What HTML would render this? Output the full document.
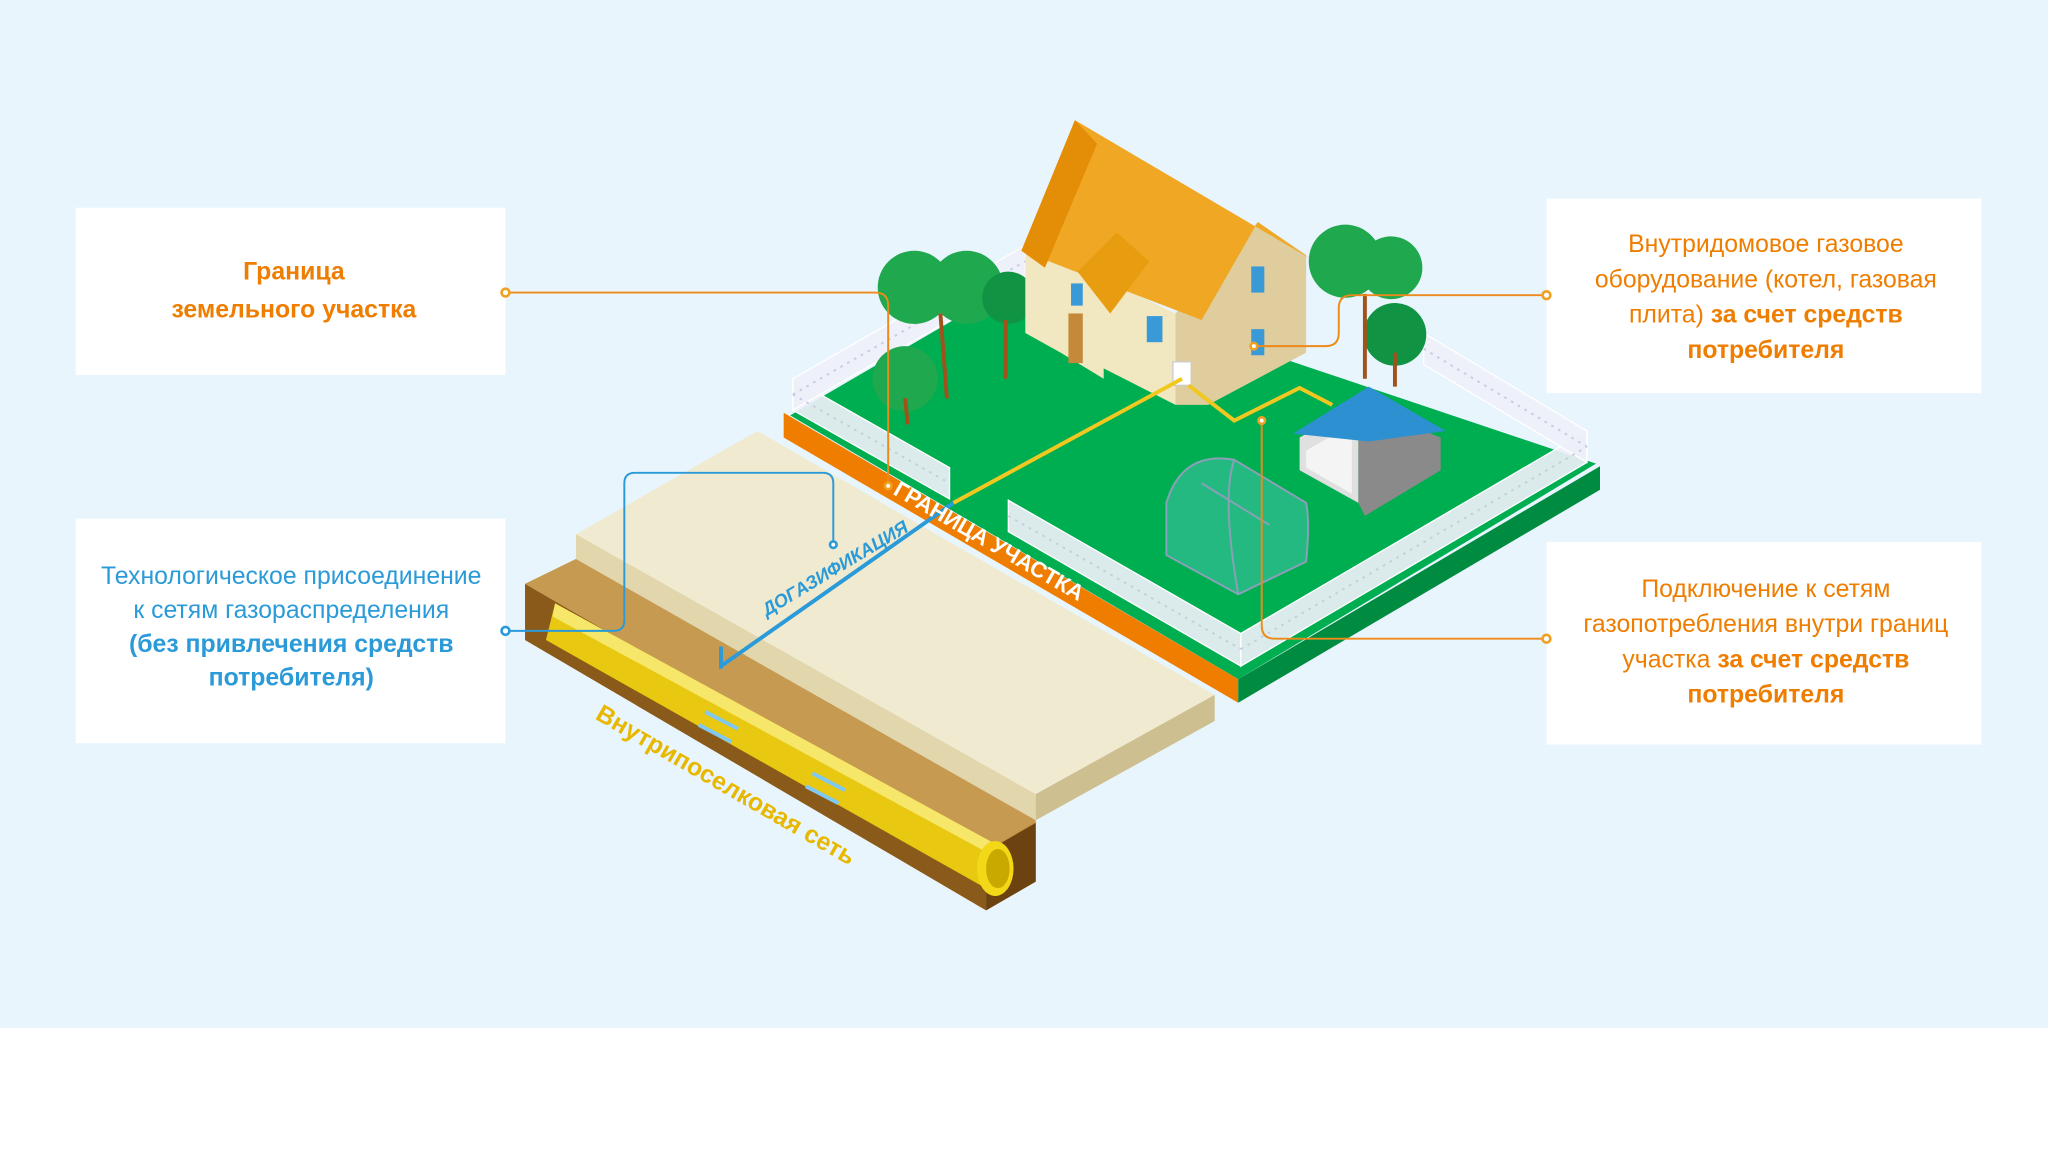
<!DOCTYPE html>
<html><head><meta charset="utf-8"><style>
html,body{margin:0;padding:0;width:2048px;height:1152px;overflow:hidden;background:#fff}
svg{display:block}
text{font-family:"Liberation Sans",sans-serif}
</style></head><body>
<svg width="2048" height="1152" viewBox="0 0 1568 882" preserveAspectRatio="none" xmlns="http://www.w3.org/2000/svg">
<rect x="0" y="0" width="1568" height="787" fill="#e8f5fd"/>
<rect x="58" y="159" width="329" height="128" fill="#fff"/>
<rect x="58" y="397" width="329" height="172" fill="#fff"/>
<rect x="1184" y="152" width="333" height="149" fill="#fff"/>
<rect x="1184" y="415" width="333" height="155" fill="#fff"/>
<g font-size="19" text-anchor="middle" fill="#ee7d00">
<text x="225" y="214" font-weight="bold">Граница</text>
<text x="225" y="243" font-weight="bold">земельного участка</text>
<text x="1352" y="193">Внутридомовое газовое</text>
<text x="1352" y="220">оборудование (котел, газовая</text>
<text x="1352" y="247">плита) <tspan font-weight="bold">за счет средств</tspan></text>
<text x="1352" y="274" font-weight="bold">потребителя</text>
<text x="1352" y="457">Подключение к сетям</text>
<text x="1352" y="484">газопотребления внутри границ</text>
<text x="1352" y="511">участка <tspan font-weight="bold">за счет средств</tspan></text>
<text x="1352" y="538" font-weight="bold">потребителя</text>
</g>
<g font-size="19" text-anchor="middle" fill="#2a9ad8">
<text x="223" y="447">Технологическое присоединение</text>
<text x="223" y="473">к сетям газораспределения</text>
<text x="223" y="499" font-weight="bold">(без привлечения средств</text>
<text x="223" y="525" font-weight="bold">потребителя)</text>
</g>
<polygon points="402,447 441,428 793,628 793,675 755,697 402,490" fill="#c4944a"/>
<polygon points="402,447 755,652 755,697 402,490" fill="#8a5a1a"/>
<polygon points="755,652 793,630 793,675 755,697" fill="#6b4210"/>
<polygon points="402,447 441,428 793,628 755,652" fill="#c69a50"/>
<polygon points="425,462 760,645 760,683 418,490" fill="#e8c810"/>
<polygon points="425,462 760,645 760,655 423,472" fill="#f6e66a"/>
<ellipse cx="762" cy="665" rx="14" ry="21" fill="#f3d818"/>
<ellipse cx="764" cy="665" rx="9" ry="15" fill="#c9a800"/>
<g stroke="#7fc8f0" stroke-width="3"><line x1="540" y1="545" x2="565" y2="558"/><line x1="535" y1="555" x2="560" y2="568"/><line x1="622" y1="592" x2="647" y2="605"/><line x1="617" y1="602" x2="642" y2="615"/></g>
<polygon points="441,409 580,330 930,532 793,608" fill="#f0ead0"/>
<polygon points="441,409 793,608 793,628 441,428" fill="#e2d6ac"/>
<polygon points="793,608 930,532 930,552 793,628" fill="#cdbf90"/>
<polygon points="605,318 790,210 1222,355 948,520" fill="#00ae52"/>
<polygon points="600,316 948,520 948,538 600,335" fill="#ee7d00"/>
<polygon points="948,520 1225,357 1225,375 948,538" fill="#008c40"/>
<g fill="#eef0f8" fill-opacity="0.92" stroke="#fff" stroke-width="1">
<polygon points="607,290 727,358 727,382 607,314"/>
<polygon points="772,383 950,485 950,510 772,407"/>
<polygon points="950,485 1215,330 1215,354 950,510"/>
<polygon points="607,290 785,188 785,212 607,314"/>
<polygon points="1090,255 1215,330 1215,354 1090,279"/>
</g>
<g stroke="#c8cce0" stroke-width="1.5" stroke-dasharray="2,4" fill="none">
<line x1="607" y1="302" x2="727" y2="370"/><line x1="772" y1="395" x2="950" y2="497"/><line x1="950" y1="497" x2="1215" y2="342"/><line x1="607" y1="302" x2="785" y2="200"/><line x1="1090" y1="267" x2="1215" y2="342"/>
</g>
<g fill="#1fa84e"><circle cx="700" cy="220" r="28"/><circle cx="740" cy="220" r="28"/><circle cx="772" cy="228" r="20" fill="#119344"/><circle cx="693" cy="290" r="25"/><circle cx="1030" cy="200" r="28"/><circle cx="1065" cy="205" r="24"/><circle cx="1068" cy="256" r="24" fill="#119344"/></g>
<g stroke="#a0521a" stroke-width="3"><line x1="720" y1="240" x2="725" y2="305"/><line x1="770" y1="245" x2="770" y2="290"/><line x1="1045" y1="225" x2="1045" y2="290"/><line x1="1068" y1="270" x2="1068" y2="296"/><line x1="693" y1="305" x2="695" y2="325"/></g>
<polygon points="785,185 900,240 900,310 845,282 845,290 812,270 785,255" fill="#f1e7c0"/>
<polygon points="900,240 963,170 1000,195 1000,270 925,310 900,310" fill="#dfcd9e"/>
<polygon points="782,192 823,92 1003,198 963,170 920,245" fill="#f0a824"/>
<polygon points="782,192 823,92 840,110 800,205" fill="#e48e08"/>
<polygon points="825,208 855,178 880,200 850,240" fill="#e89c10"/>
<rect x="818" y="240" width="11" height="38" fill="#c48a3a"/>
<rect x="820" y="217" width="9" height="17" fill="#3a9ad8"/>
<rect x="878" y="242" width="12" height="20" fill="#3a9ad8"/>
<rect x="958" y="204" width="10" height="20" fill="#3a9ad8"/>
<rect x="958" y="252" width="10" height="20" fill="#3a9ad8"/>
<rect x="898" y="277" width="14" height="18" fill="#fff" stroke="#ccc"/>
<polygon points="995,335 1040,310 1040,385 995,360" fill="#e0e0e0"/>
<polygon points="1040,310 1103,335 1103,360 1045,395 1040,385" fill="#8a8a8a"/>
<polygon points="1000,345 1035,325 1035,378 1000,358" fill="#f4f4f4"/>
<polygon points="990,332 1048,296 1107,330 1048,338" fill="#2d90d0"/>
<path d="M893,425 V385 Q905,345 945,352 L1000,385 Q1003,400 1000,430 L948,455 Z" fill="#3cc0a0" fill-opacity="0.6" stroke="#8aa0b8" stroke-width="1.5"/>
<path d="M945,352 Q935,380 948,455 M920,370 L972,402" fill="none" stroke="#8aa0b8" stroke-width="1.5"/>
<polyline points="730,385 905,290" fill="none" stroke="#f0c820" stroke-width="3"/>
<polyline points="910,295 945,322 995,297 1020,310" fill="none" stroke="#f0c820" stroke-width="3"/>
<line x1="552" y1="510" x2="730" y2="385" stroke="#2a9ad8" stroke-width="3"/>
<line x1="552" y1="495" x2="552" y2="512" stroke="#2a9ad8" stroke-width="3"/>
<text transform="translate(683,378) rotate(30)" font-size="17" font-weight="bold" fill="#fff">ГРАНИЦА УЧАСТКА</text>
<text transform="translate(587,472) rotate(-31)" font-size="14" font-style="italic" font-weight="bold" fill="#2a9ad8">ДОГАЗИФИКАЦИЯ</text>
<text transform="translate(455,550) rotate(30)" font-size="19" font-weight="bold" fill="#e8b800">Внутрипоселковая сеть</text>
<g fill="none" stroke="#ee8a1a" stroke-width="1.5">
<path d="M387,224 H670 Q680,224 680,234 V372"/>
<path d="M1184,226 H1035 Q1025,226 1025,236 V255 Q1025,265 1015,265 H960"/>
<path d="M1184,489 H976 Q966,489 966,479 V322"/>
</g>
<path d="M387,483 H470 Q478,483 478,475 V370 Q478,362 486,362 H630 Q638,362 638,370 V417" fill="none" stroke="#2a9ad8" stroke-width="1.5"/>
<g fill="#fff" stroke="#f0a020" stroke-width="2"><circle cx="387" cy="224" r="3"/><circle cx="1184" cy="226" r="3"/><circle cx="1184" cy="489" r="3"/><circle cx="960" cy="265" r="2.5"/><circle cx="966" cy="322" r="2.5"/><circle cx="680" cy="372" r="2.5"/></g>
<g fill="#fff" stroke="#2a9ad8" stroke-width="2"><circle cx="387" cy="483" r="3"/><circle cx="638" cy="417" r="2.5"/></g>
</svg>
</body></html>
